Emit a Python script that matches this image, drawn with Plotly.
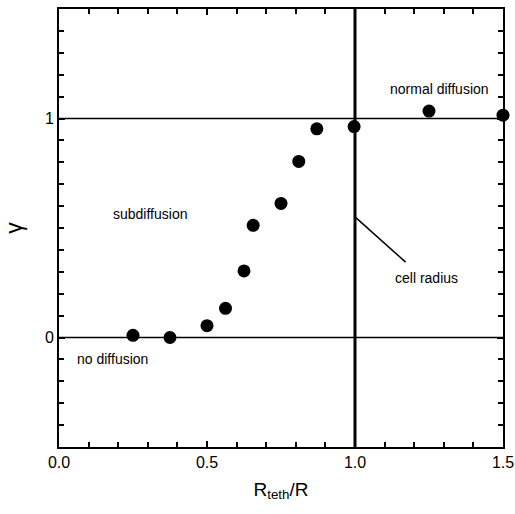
import plotly.graph_objects as go

r_ratio = [0.25, 0.375, 0.5, 0.5625, 0.625, 0.656, 0.75, 0.81, 0.871, 0.997, 1.25, 1.5]
gamma = [0.01, 0.0, 0.054, 0.133, 0.304, 0.512, 0.612, 0.804, 0.953, 0.963, 1.034, 1.015]

x_ticks = [0.0, 0.5, 1.0, 1.5]
y_ticks = [0, 1]

labels = ["subdiffusion", "no diffusion", "normal diffusion", "cell radius"]
label_x = [0.307, 0.182, 1.287, 1.243]
label_y = [0.562, -0.098, 1.135, 0.27]

font = "Liberation Sans, Arial, sans-serif"

fig = go.Figure()
fig.add_trace(go.Scatter(x=r_ratio, y=gamma, mode="markers",
                         marker=dict(color="black", size=13),
                         cliponaxis=False, showlegend=False))

fig.add_hline(y=0, line=dict(color="black", width=1.5))
fig.add_hline(y=1, line=dict(color="black", width=1.5))
fig.add_vline(x=1.0, line=dict(color="black", width=3))
fig.add_shape(type="line", x0=1.0, y0=0.551, x1=1.171, y1=0.344,
              line=dict(color="black", width=1.5))

for t, xx, yy in zip(labels, label_x, label_y):
    fig.add_annotation(x=xx, y=yy, text=t, showarrow=False,
                       font=dict(family=font, size=14, color="black"))

axis_common = dict(showgrid=False, zeroline=False, showline=True, linecolor="black",
                   linewidth=2, mirror="allticks", ticks="inside", ticklen=6,
                   tickwidth=1.5, tickcolor="black", automargin=False,
                   tickfont=dict(family=font, size=16, color="black"))

fig.update_xaxes(range=[0, 1.5], tickvals=x_ticks, tickformat=".1f",
                 minor=dict(dtick=0.1, ticks="inside", ticklen=5, tickwidth=1.5, tickcolor="black"),
                 title=dict(text="R<sub>teth</sub>/R", font=dict(family=font, size=19, color="black"), standoff=12),
                 **axis_common)
fig.update_yaxes(range=[-0.5, 1.5], tickvals=y_ticks, tickformat="d",
                 minor=dict(dtick=0.1, ticks="inside", ticklen=5, tickwidth=1.5, tickcolor="black"),
                 title=dict(text="γ", font=dict(family=font, size=23, color="black"), standoff=16),
                 **axis_common)

fig.update_layout(width=515, height=514, margin=dict(l=59, r=12, t=9, b=67),
                  plot_bgcolor="white", paper_bgcolor="white")

fig.write_html("out.html")
